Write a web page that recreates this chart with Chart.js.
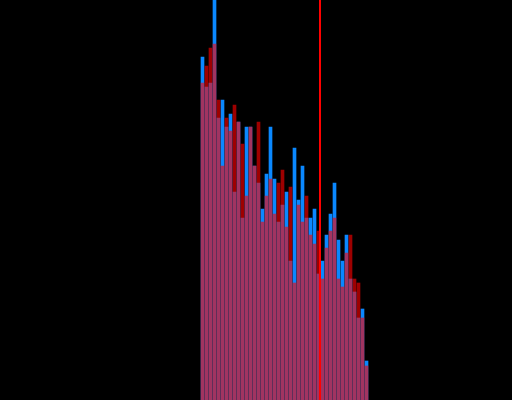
<!DOCTYPE html>
<html>
<head>
<meta charset="utf-8">
<script src="https://cdn.jsdelivr.net/npm/chart.js@4/dist/chart.umd.min.js"></script>
<style>
  html, body { margin: 0; padding: 0; background: #000; overflow: hidden; }
  #wrap { width: 512px; height: 400px; }
</style>
</head>
<body>
<div id="wrap"><canvas id="c" width="512" height="400"></canvas></div>
<script>
// Bin indices (x positions of the histogram bins)
const bins = [0,1,2,3,4,5,6,7,8,9,10,11,12,13,14,15,16,17,18,19,20,21,22,23,24,25,26,27,28,29,30,31,32,33,34,35,36,37,38,39,40,41];
// Blue series heights
const blueValues = [343,313,317,400,282,300,273,286,208,278,182,273,273,234,217,191,226,273,221,178,195,208,139,252,200,234,182,182,191,126,139,165,186,217,160,139,165,121,108,82,91,39];
// Red series heights
const redValues = [317,334,352,356,300,234,282,269,295,278,256,204,273,234,278,178,204,221,186,217,230,173,213,117,195,178,204,165,156,169,121,152,169,182,121,113,147,165,121,117,82,34];
// Vertical marker position (in bin units)
const markerX = 29.375;
const yMax = 400;

const bluePts = bins.map((b, i) => ({ x: b, y: blueValues[i] }));
const redPts = bins.map((b, i) => ({ x: b, y: redValues[i] }));

new Chart(document.getElementById('c'), {
  type: 'bar',
  data: {
    datasets: [
      {
        type: 'line',
        data: [{ x: markerX, y: 0 }, { x: markerX, y: yMax }],
        borderColor: '#ff0000',
        borderWidth: 2,
        pointRadius: 0,
        fill: false,
        order: 0
      },
      {
        data: redPts,
        backgroundColor: 'rgba(255,0,0,0.62)',
        borderWidth: 0,
        barThickness: 3,
        grouped: false,
        order: 1
      },
      {
        data: bluePts,
        backgroundColor: 'rgb(10,136,255)',
        borderWidth: 0,
        barThickness: 3,
        grouped: false,
        order: 2
      }
    ]
  },
  options: {
    responsive: false,
    animation: false,
    devicePixelRatio: 1,
    layout: { padding: 0 },
    plugins: { legend: { display: false }, tooltip: { enabled: false } },
    scales: {
      x: { type: 'linear', min: -50.625, max: 77.375, offset: false, display: false },
      y: { min: 0, max: yMax, display: false }
    }
  }
});
</script>
</body>
</html>
